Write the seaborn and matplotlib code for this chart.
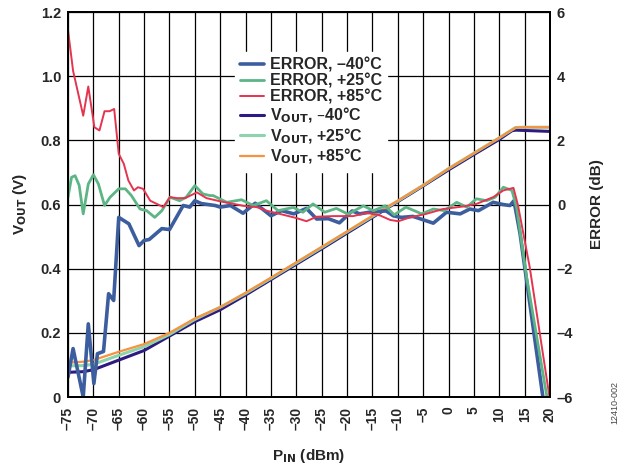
import numpy as np
import pandas as pd
import matplotlib
matplotlib.use("Agg")
import matplotlib.pyplot as plt
import seaborn as sns

# ======================================
# DATA
# ======================================
pin_vout = [-75, -72, -70, -65, -60, -55, -50, -45, -40, -35, -30, -25, -20,
            -15, -10, -5, 0, 5, 10, 12.5, 13.2, 15, 20]
vout_m40 = [0.077, 0.079, 0.085, 0.115, 0.145, 0.190, 0.235, 0.272, 0.318, 0.366,
            0.414, 0.462, 0.511, 0.560, 0.609, 0.658, 0.708, 0.756, 0.803, 0.830,
            0.832, 0.831, 0.828]
vout_p25 = [0.097, 0.098, 0.102, 0.130, 0.157, 0.195, 0.242, 0.280, 0.323, 0.370,
            0.418, 0.466, 0.515, 0.563, 0.611, 0.660, 0.712, 0.760, 0.808, 0.833,
            0.840, 0.841, 0.841]
vout_p85 = [0.107, 0.110, 0.115, 0.141, 0.165, 0.200, 0.245, 0.280, 0.325, 0.372,
            0.420, 0.468, 0.516, 0.565, 0.612, 0.660, 0.712, 0.760, 0.808, 0.833,
            0.840, 0.841, 0.841]

pin_err_m40 = [-75, -74, -72, -71, -69.9, -69.2, -68, -67, -66, -65, -64, -63, -61,
               -60, -59, -56.5, -55, -52.3, -51, -50, -48.7, -46, -45, -43, -40.5,
               -38.1, -35, -32.9, -30.5, -28, -26, -23.7, -21.5, -19, -17.5, -14.9,
               -12.3, -10.9, -9.3, -7, -3, -0.4, 2.3, 4.2, 5.9, 8.8, 10.8, 12.1,
               12.9, 14.1, 18.6]
err_m40 = [-5.38, -4.49, -6.0, -3.72, -5.58, -4.65, -4.58, -2.78, -2.99, -0.40,
           -0.50, -0.60, -1.28, -1.12, -1.09, -0.75, -0.78, -0.03, -0.08, 0.12,
           0.03, -0.03, -0.08, -0.03, -0.27, 0.04, -0.35, -0.19, -0.29, -0.12,
           -0.45, -0.44, -0.57, -0.20, -0.29, -0.22, -0.20, -0.35, -0.40, -0.37,
           -0.58, -0.24, -0.29, -0.14, -0.19, 0.07, 0.0, -0.03, 0.12, -0.91, -6.0]

pin_err_p25 = [-75, -74.3, -73.6, -72.8, -72, -71, -70, -69, -67.8, -66.7, -65,
               -63.7, -62.5, -60.8, -59.5, -57.9, -56.5, -54.9, -53, -51.7, -50,
               -48.4, -47, -46.4, -43.7, -40.8, -38.5, -35.9, -33.6, -30.6, -28.7,
               -26.7, -24.4, -22.1, -19.8, -16.8, -14.8, -12.5, -10.7, -8.4, -5.3,
               -3, -0.8, 1.6, 3.6, 5.5, 7.5, 9.2, 10.8, 12.5, 13.4, 15.4, 19.4]
err_p25 = [0.23, 0.85, 0.90, 0.60, -0.29, 0.64, 0.93, 0.64, -0.03, 0.23, 0.49,
           0.49, 0.28, -0.14, -0.19, -0.40, -0.19, 0.23, 0.12, 0.23, 0.59, 0.33,
           0.28, 0.28, 0.07, 0.15, -0.03, 0.12, -0.19, -0.09, -0.24, 0.02, -0.24,
           -0.12, -0.30, -0.04, -0.19, -0.04, -0.32, -0.08, -0.29, -0.14, -0.19,
           0.07, -0.08, 0.18, 0.12, 0.23, 0.54, 0.44, -0.08, -2.27, -6.0]

pin_err_p85 = [-75, -74, -72, -71, -69.8, -68.8, -67.8, -66.8, -65.9, -65, -64,
               -63.1, -62, -61.2, -60.2, -58.8, -57.5, -56.2, -54.9, -53.5, -51.9,
               -49.6, -47.7, -45, -43, -40.4, -37.8, -35.9, -33.3, -30, -28, -26,
               -22.7, -18.8, -16.1, -13.5, -11.5, -9.9, -7.6, -4.4, -1.1, 2.9, 5.5,
               8.8, 10.8, 12.8, 13.7, 16.0, 19.9]
err_p85 = [5.44, 4.17, 2.77, 3.68, 2.41, 2.31, 2.91, 2.91, 2.98, 1.58, 1.27, 0.75,
           0.44, 0.54, 0.49, 0.12, 0.02, -0.08, 0.23, 0.20, 0.20, 0.38, 0.20, 0.10,
           0.04, -0.04, -0.08, -0.19, -0.29, -0.42, -0.52, -0.38, -0.36, -0.36,
           -0.26, -0.34, -0.48, -0.52, -0.40, -0.29, -0.14, -0.06, 0.02, 0.23,
           0.44, 0.52, -0.03, -1.95, -6.0]

x_ticks = list(range(-75, 25, 5))
x_tick_labels = [f"{v}".replace("-", "\u2013") for v in x_ticks]
vout_ticks = [0, 0.2, 0.4, 0.6, 0.8, 1.0, 1.2]
vout_tick_labels = ["0", "0.2", "0.4", "0.6", "0.8", "1.0", "1.2"]
err_ticks = [-6, -4, -2, 0, 2, 4, 6]
err_tick_labels = ["\u20136", "\u20134", "\u20132", "0", "2", "4", "6"]

# ======================================
# STYLE
# ======================================
sns.set_style("white")
plt.rcParams["font.family"] = ["Liberation Sans", "DejaVu Sans"]
plt.rcParams["font.weight"] = "bold"
plt.rcParams["mathtext.default"] = "bf"

C_BLUE = "#3D5E9E"
C_GREEN = "#5DB585"
C_RED = "#E5344F"
C_PURPLE = "#2E1A80"
C_LGREEN = "#8DD3AC"
C_ORANGE = "#F7923E"

fig = plt.figure(figsize=(6.25, 4.65), dpi=100)
ax = fig.add_axes([0.1088, 0.1462, 0.7712, 0.8278])
ax2 = ax.twinx()

# ======================================
# VOUT (left axis)
# ======================================
sns.lineplot(x=pin_vout, y=vout_m40, ax=ax, color=C_PURPLE, lw=2.2,
             label="V$_{OUT}$, \u201340\u00b0C", legend=False, zorder=3)
sns.lineplot(x=pin_vout, y=vout_p25, ax=ax, color=C_LGREEN, lw=2.2,
             label="V$_{OUT}$, +25\u00b0C", legend=False, zorder=3)
sns.lineplot(x=pin_vout, y=vout_p85, ax=ax, color=C_ORANGE, lw=1.6,
             label="V$_{OUT}$, +85\u00b0C", legend=False, zorder=3)

# ======================================
# ERROR (right axis)
# ======================================
sns.lineplot(x=pin_err_m40, y=err_m40, ax=ax2, color=C_BLUE, lw=2.6,
             label="ERROR, \u201340\u00b0C", legend=False, sort=False)
sns.lineplot(x=pin_err_p25, y=err_p25, ax=ax2, color=C_GREEN, lw=2.0,
             label="ERROR, +25\u00b0C", legend=False, sort=False)
sns.lineplot(x=pin_err_p85, y=err_p85, ax=ax2, color=C_RED, lw=1.4,
             label="ERROR, +85\u00b0C", legend=False, sort=False)

ax.set_xlim(-75, 20)
ax.set_ylim(0, 1.2)
ax2.set_ylim(-6, 6)

ax.set_xticks(x_ticks)
ax.set_xticklabels(x_tick_labels, rotation=90, fontsize=10, fontweight="bold")
ax.set_yticks(vout_ticks)
ax.set_yticklabels(vout_tick_labels, fontsize=10.5, fontweight="bold")
ax2.set_yticks(err_ticks)
ax2.set_yticklabels(err_tick_labels, fontsize=10.5, fontweight="bold")
ax.tick_params(axis="x", length=0, pad=7)
ax.tick_params(axis="y", length=0, pad=5)
ax2.tick_params(length=0, pad=5)

ax.grid(True, color="black", lw=0.9)
ax.set_axisbelow(True)
for a in (ax, ax2):
    for s in a.spines.values():
        s.set_color("black")
        s.set_linewidth(1.4)

ax.set_xlabel("P$_{IN}$ (dBm)", fontsize=11, fontweight="bold", labelpad=12)
ax.set_ylabel("V$_{OUT}$ (V)", fontsize=11, fontweight="bold", labelpad=8)
ax2.set_ylabel("ERROR (dB)", fontsize=11, fontweight="bold", labelpad=12)

# combined legend
h2, l2 = ax2.get_legend_handles_labels()
h1, l1 = ax.get_legend_handles_labels()
leg = ax2.legend(h2 + h1, l2 + l1, loc="upper left", bbox_to_anchor=(0.329, 0.918),
                 frameon=True, fancybox=False, framealpha=1, edgecolor="white",
                 fontsize=11.5, handlelength=1.5, handletextpad=0.35,
                 labelspacing=0.07, borderpad=0.35)
for t in leg.get_texts():
    t.set_fontweight("bold")

fig.text(0.984, 0.135, "12410-002", rotation=90, fontsize=6.5, color="#444444",
         fontweight="normal", ha="center", va="center")

plt.savefig("out.png", dpi=100)
plt.close()
